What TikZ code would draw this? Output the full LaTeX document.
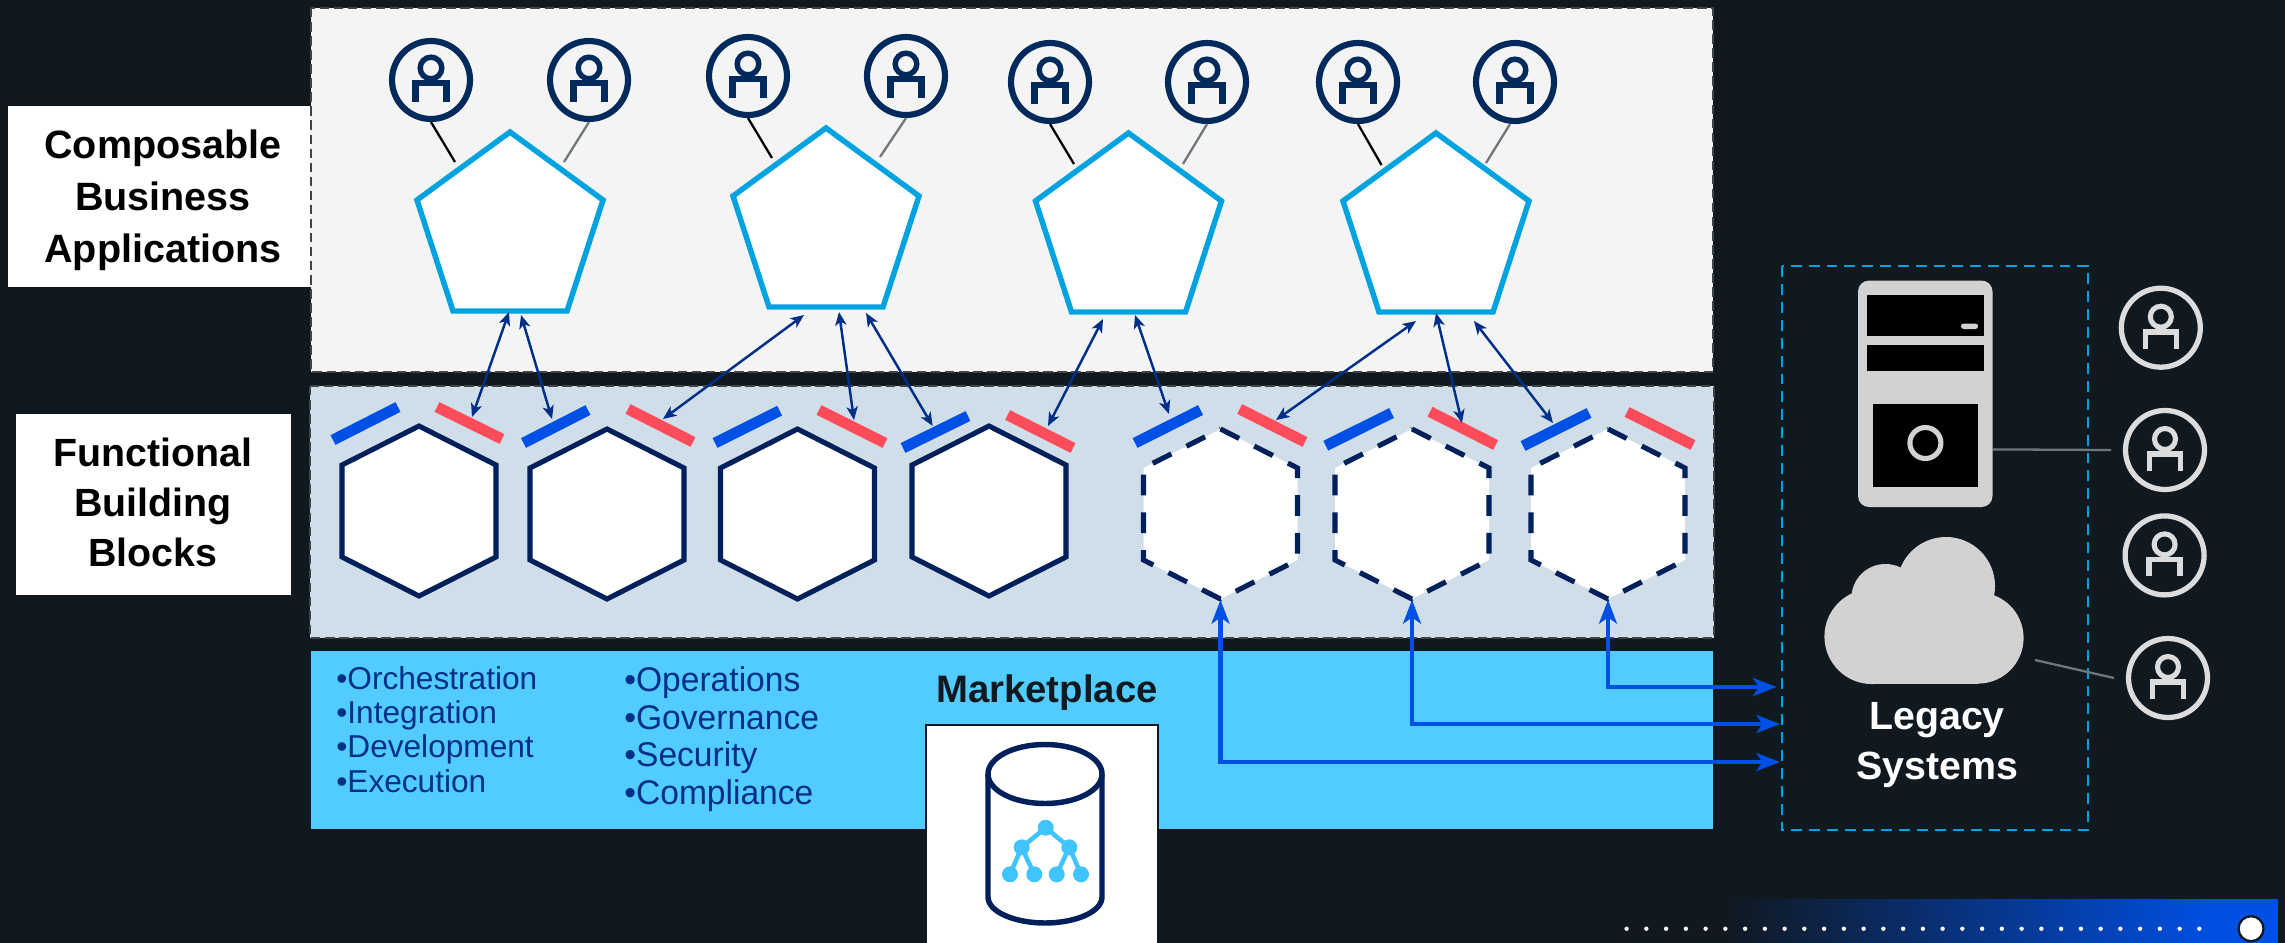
\documentclass[tikz,border=0pt]{standalone}
\usepackage{fontspec}
\setmainfont{Liberation Sans}
\usetikzlibrary{arrows.meta,shapes.geometric,calc}
\definecolor{bgdark}{HTML}{101820}
\definecolor{navy}{HTML}{00205B}
\definecolor{usernavy}{HTML}{002A5C}
\definecolor{pentblue}{HTML}{00A3E0}
\definecolor{arrownavy}{HTML}{002F87}
\definecolor{brightblue}{HTML}{0050E6}
\definecolor{barred}{HTML}{FF4C5B}
\definecolor{paneltop}{HTML}{F4F4F4}
\definecolor{panelmid}{HTML}{D0DEEA}
\definecolor{panelsky}{HTML}{52CCFF}
\definecolor{lightuser}{HTML}{DCDCDC}
\definecolor{servergray}{HTML}{D2D2D2}
\definecolor{dashgray}{HTML}{3F444A}
\definecolor{linegray}{HTML}{70777A}
\definecolor{treeblue}{HTML}{40C4FF}
\tikzset{
  x=0.02cm,y=-0.02cm,
  panelbox/.style={draw=dashgray,line width=1.3pt,dash pattern=on 5.4pt off 2.6pt},
  pentbox/.style={draw=pentblue,fill=white,line width=3.1pt,miter limit=10},
  hexsolid/.style={draw=navy,fill=white,line width=2.9pt},
  hexdash/.style={draw=navy,line width=2.9pt,dash pattern=on 11.9pt off 9.6pt},
  barblue/.style={draw=brightblue,line width=6.2pt},
  barredst/.style={draw=barred,line width=6.2pt},
  linkarrow/.style={draw=arrownavy,line width=1.4pt,{Stealth[length=7.6pt,width=6.4pt,inset=2pt]}-{Stealth[length=7.6pt,width=6.4pt,inset=2pt]}},
  routearrow/.style={draw=brightblue,line width=2.3pt,{Stealth[length=13.4pt,width=10.2pt,inset=3.4pt]}-{Stealth[length=13.4pt,width=10.2pt,inset=3.4pt]}},
  sidelabel/.style={text=black,align=center,inner sep=0pt},
  listitem/.style={anchor=base west,inner sep=0pt,text=arrownavy},
  dkuser/.style={circle,draw=usernavy,line width=3.5pt,minimum size=1.56cm,inner sep=0pt},
  ltuser/.style={circle,draw=lightuser,line width=3pt,minimum size=1.58cm,inner sep=0pt},
  lk/.style={line width=1.3pt,draw=black},
  lkg/.style={line width=1.3pt,draw=linegray},
}
\newcommand{\dkperson}[3]{%
  \node[dkuser] (#1) at (#2,#3) {};
  \begin{scope}[shift={(#2,#3)}]
    \draw[usernavy,line width=3.1pt] (0,-12) circle[radius=10.8];
    \draw[usernavy,line width=3.6pt] (-15.5,22) -- (-15.5,3) -- (15.5,3) -- (15.5,22);
  \end{scope}}
\newcommand{\ltperson}[3]{%
  \node[ltuser] (#1) at (#2,#3) {};
  \begin{scope}[shift={(#2,#3)}]
    \draw[lightuser,line width=2.9pt] (0,-11) circle[radius=10.5];
    \draw[lightuser,line width=3.2pt] (-15.5,21) -- (-15.5,4) -- (15.5,4) -- (15.5,21);
  \end{scope}}
\newcommand{\pentshape}[3]{%
  \begin{scope}[shift={(#2,#3)}]
    \draw[pentbox] (0,0) -- (93,68) -- (57,179) -- (-57,179) -- (-93,68) -- cycle;
  \end{scope}
  \coordinate (#1) at (#2,#3);}
\newcommand{\hexshape}[4]{% style name x y
  \begin{scope}[shift={(#3,#4)}]
    \fill[white] (0,0) -- (77,39) -- (77,131) -- (0,170) -- (-77,131) -- (-77,39) -- cycle;
    \draw[#1] (0,0) -- (77,39) -- (77,131) -- (0,170) -- (-77,131) -- (-77,39) -- cycle;
  \end{scope}
  \coordinate (#2) at (#3,#4);}
\begin{document}
\begin{tikzpicture}
\useasboundingbox (0,0) rectangle (2285,943);
\fill[bgdark] (0,0) rectangle (2285,943);

% gradient strip
\shade[left color=bgdark,right color=brightblue] (1725,899) rectangle (2220,943);
\fill[brightblue] (2220,899) rectangle (2278,943);
\foreach \i in {0,...,29} \fill[white] ({1626.6+19.75*\i},928.7) circle[radius=2.2];
\draw[bgdark,fill=white,line width=1.3pt] (2251,928.7) circle[radius=12.5];

% side labels
\fill[white] (8,106) rectangle (312,287);
\fill[white] (16,414) rectangle (291,595);
\node[sidelabel,font=\fontsize{22.5}{29.5}\selectfont\bfseries] (lblA) at (163,200.5) {Composable\\Business\\Applications};
\node[sidelabel,font=\fontsize{22.4}{28.7}\selectfont\bfseries] (lblB) at (153,502.5) {Functional\\Building\\Blocks};

% panels
\draw[panelbox,fill=paneltop] (311,8) rectangle (1713,372);
\draw[panelbox,fill=panelmid] (310,386) rectangle (1714,638);
\fill[panelsky] (311,651) rectangle (1713,829);

% lists
\foreach \t/\yy in {Orchestration/689,Integration/723,Development/757.7,Execution/792.7}
  \node[listitem,font=\fontsize{18}{20}\selectfont] at (336,\yy) {•\t};
\foreach \t/\yy in {Operations/691.7,Governance/729,Security/766.7,Compliance/804}
  \node[listitem,font=\fontsize{19.5}{20}\selectfont] at (624,\yy) {\scalebox{0.98}[1]{•\t}};

% marketplace
\node[anchor=base,inner sep=0pt,text=bgdark,font=\fontsize{21.8}{26}\selectfont\bfseries] (mkt) at (1047,702) {Marketplace};
\draw[bgdark,fill=white,line width=1.2pt] (926,945) -- (926,725) -- (1158,725) -- (1158,945);
\draw[navy,line width=3.1pt] (988,774) -- (988,897) .. controls (988,912) and (1015,923) .. (1045,923) .. controls (1075,923) and (1102,912) .. (1102,897) -- (1102,774);
\draw[navy,line width=3.1pt] (1045,774) ellipse[x radius=57,y radius=29.5];
\coordinate (tr0) at (1045.7,827.7);
\coordinate (tr1) at (1021.7,847.3);
\coordinate (tr2) at (1069.3,847.3);
\coordinate (tr3) at (1010,874.3);
\coordinate (tr4) at (1034.3,874.3);
\coordinate (tr5) at (1056.7,874.3);
\coordinate (tr6) at (1081,874.3);
\draw[treeblue,line width=2.6pt] (tr3) -- (tr1) -- (tr0) -- (tr2) -- (tr6) (tr1) -- (tr4) (tr2) -- (tr5);
\foreach \n in {tr0,tr1,tr2,tr3,tr4,tr5,tr6} \fill[treeblue] (\n) circle[radius=8];

% users on top
\dkperson{u1}{431}{80}
\dkperson{u2}{589}{80}
\dkperson{u3}{748}{76}
\dkperson{u4}{906}{76}
\dkperson{u5}{1050}{82}
\dkperson{u6}{1207}{82}
\dkperson{u7}{1358}{82}
\dkperson{u8}{1515}{82}

% pentagons
\pentshape{p1}{510}{132}
\pentshape{p2}{826}{128}
\pentshape{p3}{1128.5}{133}
\pentshape{p4}{1436}{133}

\coordinate (pu1) at (455,162);
\coordinate (pu2) at (564,162);
\coordinate (pu3) at (772,158);
\coordinate (pu4) at (880,157);
\coordinate (pu5) at (1074,164);
\coordinate (pu6) at (1183,164);
\coordinate (pu7) at (1381.5,165);
\coordinate (pu8) at (1486,163);
\draw[lk] (u1.south) -- (pu1);
\draw[lkg] (u2.south) -- (pu2);
\draw[lk] (u3.south) -- (pu3);
\draw[lkg] (u4.south) -- (pu4);
\draw[lk] (u5.south) -- (pu5);
\draw[lkg] (u6.south) -- (pu6);
\draw[lk] (u7.south) -- (pu7);
\draw[lkg] ([xshift=-0.1cm]u8.south) -- (pu8);

% hexagons
\hexshape{hexsolid}{h1}{419}{426}
\hexshape{hexsolid}{h2}{607}{429}
\hexshape{hexsolid}{h3}{797.5}{429}
\hexshape{hexsolid}{h4}{989}{426}
\hexshape{hexdash}{h5}{1220.5}{429}
\hexshape{hexdash}{h6}{1412}{429}
\hexshape{hexdash}{h7}{1608}{429}

% bars
\draw[barblue] (333,440) -- (398,407);
\draw[barredst] (437,407) -- (502,439);
\draw[barblue] (523.5,443) -- (588,410);
\draw[barredst] (628,409) -- (693,442);
\draw[barblue] (715,443) -- (779.6,410.7);
\draw[barredst] (819,410) -- (885,443);
\draw[barblue] (903,448) -- (968,416);
\draw[barredst] (1007.6,415) -- (1073,448);
\draw[barblue] (1135,443) -- (1200.6,410);
\draw[barredst] (1239.7,409) -- (1305,442);
\draw[barblue] (1325.8,445.7) -- (1391.6,413);
\draw[barredst] (1430,411.7) -- (1495.7,445);
\draw[barblue] (1523,446) -- (1589,413);
\draw[barredst] (1627,412) -- (1693,445);

% link arrows
\coordinate (a1t) at (509,312);  \coordinate (a1b) at (472,417);
\coordinate (a2t) at (521,315);  \coordinate (a2b) at (552,419);
\coordinate (a3t) at (804,315);  \coordinate (a3b) at (663,419);
\coordinate (a4t) at (839,312);  \coordinate (a4b) at (854,420);
\coordinate (a5t) at (866,313);  \coordinate (a5b) at (932.6,426);
\coordinate (a6t) at (1103,319); \coordinate (a6b) at (1048,426);
\coordinate (a7t) at (1135,315); \coordinate (a7b) at (1169,414);
\coordinate (a8t) at (1416,321); \coordinate (a8b) at (1276,420);
\coordinate (a9t) at (1436,313); \coordinate (a9b) at (1462,423);
\coordinate (a10t) at (1474,321); \coordinate (a10b) at (1553,423);
\foreach \k in {1,...,10} \draw[linkarrow] (a\k t) -- (a\k b);

% routes
\coordinate (r5h) at (1220.5,600); \coordinate (r5e) at (1780,762);
\coordinate (r6h) at (1412,600);   \coordinate (r6e) at (1780,724);
\coordinate (r7h) at (1608,600);   \coordinate (r7e) at (1776.5,687);
\draw[routearrow] (r5h) |- (r5e);
\draw[routearrow] (r6h) |- (r6e);
\draw[routearrow] (r7h) |- (r7e);

% legacy box
\draw[pentblue,line width=1.5pt,dash pattern=on 6.2pt off 4pt] (1782,266) rectangle (2088,830);

% server
\fill[servergray,rounded corners=6.2pt] (1858,280.6) rectangle (1992.5,507);
\fill[black] (1867,295) rectangle (1984,336);
\fill[black] (1867,344.5) rectangle (1984,371);
\fill[black] (1872.8,403.5) rectangle (1978,486.5);
\fill[servergray,rounded corners=1.5pt] (1961,323.5) rectangle (1978,329);
\draw[servergray,line width=2.9pt] (1925.4,443) circle[radius=15.5];
\coordinate (srv) at (1993,449.4);

% cloud
\fill[servergray] (1872,636.5) circle[radius=47.6];
\fill[servergray] (1978,638) circle[radius=45.6];
\fill[servergray] (1946,586) circle[radius=49];
\fill[servergray] (1885.4,598) circle[radius=34];
\fill[servergray] (1873,600) rectangle (1978,683.6);
\fill[servergray] (1860,590) rectangle (1990,650);
\coordinate (cld) at (2035,660);

\node[inner sep=0pt,text=white,font=\fontsize{22.4}{28.6}\selectfont\bfseries,align=center] (legacy) at (1937,745) {Legacy\\Systems};

% right users
\ltperson{v1}{2160.8}{327.7}
\ltperson{v2}{2165}{450}
\ltperson{v3}{2164.6}{555.4}
\ltperson{v4}{2168}{678}
\coordinate (v2in) at (2111,450);
\coordinate (v4in) at (2114,678);
\draw[lkg] (srv) -- (v2in);
\draw[lkg] (cld) -- (v4in);
\end{tikzpicture}
\end{document}
